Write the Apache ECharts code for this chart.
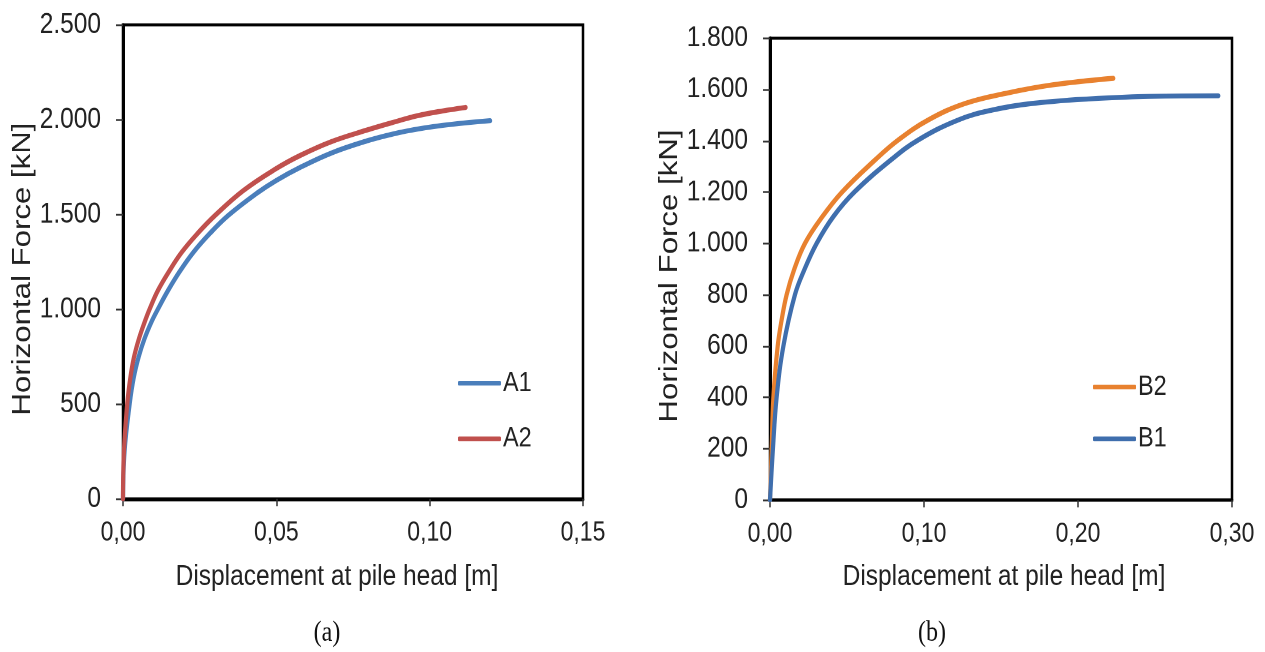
<!DOCTYPE html>
<html>
<head>
<meta charset="utf-8">
<script src="https://cdn.jsdelivr.net/npm/echarts@6/dist/echarts.min.js"></script>
<style>
  html, body { margin: 0; padding: 0; background: #fff; }
  #wrap { width: 1265px; height: 652px; overflow: hidden; position: relative; }
  /* the figure is laid out at 1/1.2 height and stretched vertically to full size */
  #chart { width: 1265px; height: 543.333px; transform: scaleY(1.2); transform-origin: 0 0; }
</style>
</head>
<body>
<div id="wrap"><div id="chart"></div></div>
<script>
// Load–displacement curves of laterally loaded piles, panels (a) and (b)

// Panel (a): displacement at pile head [m] and horizontal force [kN]
const a1Disp  = [0, 0.0005, 0.0022, 0.0035, 0.0051, 0.0070, 0.0093, 0.0114, 0.0147, 0.0185, 0.0229, 0.0283, 0.0343, 0.0436, 0.0500, 0.0578, 0.0680, 0.0796, 0.0880, 0.0960, 0.1073, 0.1197];
const a1Force = [0, 250, 505, 640, 749, 845, 935, 1002, 1100, 1200, 1300, 1400, 1495, 1612, 1680, 1749, 1825, 1889, 1925, 1951, 1976, 1995];
const a2Disp  = [0, 0.0003, 0.0014, 0.0024, 0.0036, 0.0052, 0.0069, 0.0087, 0.0114, 0.0150, 0.0191, 0.0243, 0.0300, 0.0392, 0.0496, 0.0578, 0.0680, 0.0796, 0.0880, 0.0960, 0.1040, 0.1117];
const a2Force = [0, 250, 505, 640, 749, 845, 926, 1002, 1100, 1200, 1300, 1400, 1495, 1626, 1739, 1812, 1885, 1946, 1986, 2021, 2046, 2065];

// Panel (b)
const b2Disp  = [0, 0.0011, 0.0022, 0.0050, 0.0075, 0.0108, 0.0158, 0.0227, 0.0335, 0.0468, 0.0682, 0.0833, 0.1028, 0.1266, 0.1526, 0.1829, 0.2229];
const b2Force = [0, 200, 400, 600, 700, 800, 900, 1000, 1100, 1200, 1325, 1403, 1481, 1545, 1584, 1617, 1643];
const b1Disp  = [0, 0.0019, 0.0043, 0.0087, 0.0162, 0.0225, 0.0303, 0.0411, 0.0548, 0.0785, 0.0963, 0.1223, 0.1439, 0.1699, 0.2132, 0.2565, 0.2911];
const b1Force = [0, 200, 400, 600, 800, 900, 1000, 1104, 1200, 1325, 1403, 1481, 1519, 1545, 1565, 1574, 1575];

// Axis ranges
const aXTicks = { min: 0, max: 0.15, step: 0.05 };
const aYTicks = { min: 0, max: 2500, step: 500 };
const bXTicks = { min: 0, max: 0.30, step: 0.10 };
const bYTicks = { min: 0, max: 1800, step: 200 };

const xTitle = 'Displacement at pile head [m]';
const yTitle = 'Horizontal Force [kN]';
const captions = ['(a)', '(b)'];

const SANS = '"Liberation Sans",Arial,sans-serif';
const SERIF = '"Liberation Serif","Times New Roman",serif';
const INK = '#222';

const pairs = (xs, ys) => xs.map((x, i) => [x, ys[i]]);
const fmtForce = v => v >= 1000 ? Math.floor(v / 1000) + '.' + String(v % 1000).padStart(3, '0') : String(v);
const fmtDisp = v => v.toFixed(2).replace('.', ',');

function xAxisFor(grid, t) {
  return {
    gridIndex: grid, type: 'value', min: t.min, max: t.max, interval: t.step,
    axisLine: { show: true, onZero: false, lineStyle: { color: '#000', width: 2.5 } },
    axisTick: { show: true, inside: false, length: 6, lineStyle: { color: '#333', width: 1.5 } },
    axisLabel: { margin: 17, fontFamily: SANS, fontSize: 23, color: INK, formatter: fmtDisp },
    splitLine: { show: false }
  };
}
function yAxisFor(grid, t) {
  return {
    gridIndex: grid, type: 'value', min: t.min, max: t.max, interval: t.step,
    axisLine: { show: true, onZero: false, lineStyle: { color: '#000', width: 3 } },
    axisTick: { show: true, inside: false, length: 7, lineStyle: { color: '#333', width: 1.5 } },
    axisLabel: { margin: 22, fontFamily: SANS, fontSize: 24.5, color: INK, formatter: fmtForce },
    splitLine: { show: false }
  };
}
function curve(name, xs, ys, color, axis) {
  return {
    name, type: 'line', xAxisIndex: axis, yAxisIndex: axis,
    data: pairs(xs, ys), smooth: 0.4,
    symbol: 'none', showSymbol: false,
    lineStyle: { width: 4.2, color, cap: 'round', join: 'round' },
    itemStyle: { color }
  };
}
function legendFor(names, left, top, gap) {
  return {
    data: names, orient: 'vertical', left, top, padding: 0,
    icon: 'roundRect', itemWidth: 43, itemHeight: 3.8, itemGap: gap,
    textStyle: { fontFamily: SANS, fontSize: 23.5, color: INK, padding: [0, 0, 0, -3] }
  };
}
function yTitleText(cx, cy) {
  return {
    type: 'text', x: cx, y: cy, rotation: Math.PI / 2,
    style: { text: yTitle, fontFamily: SANS, fontSize: 26, fill: INK, align: 'center', verticalAlign: 'middle' }
  };
}
function xTitleText(cx, cy) {
  return {
    type: 'text', x: cx, y: cy,
    style: { text: xTitle, fontFamily: SANS, fontSize: 24.5, fill: INK, align: 'center', verticalAlign: 'middle' }
  };
}
function captionText(cx, cy, s) {
  return {
    type: 'text', x: cx, y: cy,
    style: { text: s, fontFamily: SERIF, fontSize: 24, fill: '#111', align: 'center', verticalAlign: 'middle' }
  };
}

const chart = echarts.init(document.getElementById('chart'), null, { renderer: 'canvas', devicePixelRatio: 2 });
chart.setOption({
  animation: false,
  backgroundColor: '#fff',
  grid: [
    { left: 123, top: 20.8, width: 460, height: 395, show: true, borderColor: '#000', borderWidth: 2.5, backgroundColor: 'transparent' },
    { left: 770, top: 31.7, width: 462, height: 385, show: true, borderColor: '#000', borderWidth: 2.5, backgroundColor: 'transparent' }
  ],
  xAxis: [xAxisFor(0, aXTicks), xAxisFor(1, bXTicks)],
  yAxis: [yAxisFor(0, aYTicks), yAxisFor(1, bYTicks)],
  legend: [legendFor(['A1', 'A2'], 458, 307.4, 22.3), legendFor(['B2', 'B1'], 1093, 310.5, 19.2)],
  series: [
    curve('A1', a1Disp, a1Force, '#4A7EBB', 0),
    curve('A2', a2Disp, a2Force, '#C0504D', 0),
    curve('B2', b2Disp, b2Force, '#E8812F', 1),
    curve('B1', b1Disp, b1Force, '#3F6EAD', 1)
  ],
  graphic: [
    yTitleText(23, 224.2),
    yTitleText(670, 230),
    xTitleText(337, 480.8),
    xTitleText(1004, 480.8),
    captionText(327, 527.5, captions[0]),
    captionText(932, 527.5, captions[1])
  ]
});
</script>
</body>
</html>
